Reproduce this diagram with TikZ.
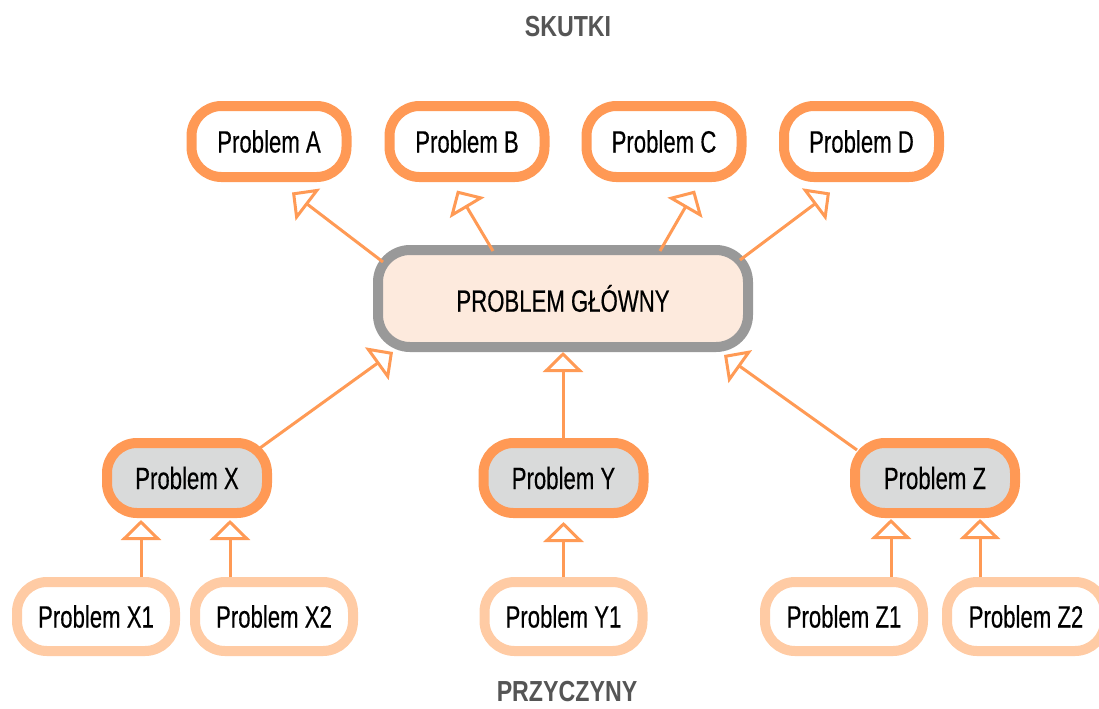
\documentclass[tikz,border=0pt]{standalone}
\usepackage{fontspec}
\setmainfont[FakeStretch=0.72,FakeBold=0.35]{Liberation Sans}
\newfontfamily\headfont[FakeStretch=0.8]{Liberation Sans Bold}
\usetikzlibrary{arrows.meta}
\definecolor{orng}{HTML}{FF9955}
\definecolor{arrc}{HTML}{FF9A55}
\definecolor{peach}{HTML}{FFCBA4}
\definecolor{midgray}{HTML}{D9DADA}
\definecolor{gborder}{HTML}{999999}
\definecolor{mainfill}{HTML}{FDEADD}
\definecolor{headgray}{HTML}{555555}
\begin{document}
\begin{tikzpicture}[x=0.5pt,y=-0.5pt,
  box/.style={rounded corners=15pt, line width=5pt, minimum width=77.5pt, minimum height=35.5pt,
    inner sep=0pt, font=\fontsize{15.4}{18}\selectfont, text=black},
  topbox/.style={box, draw=orng, fill=white},
  midbox/.style={box, draw=orng, fill=midgray, minimum width=80pt, minimum height=35pt},
  lowbox/.style={box, draw=peach, fill=white, minimum width=79pt, minimum height=34.5pt},
  mainbox/.style={box, draw=gborder, fill=mainfill, minimum width=185pt, minimum height=48.5pt, rounded corners=16pt},
  arr/.style={draw=arrc, line width=1.5pt, -{Triangle[open, length=10pt, width=20pt]}},
  head/.style={font=\headfont\fontsize{14.5}{16}\selectfont, text=headgray, inner sep=0pt}]
\useasboundingbox (0,0) rectangle (1099,708);

\node[head] (skutki) at (568,27) {SKUTKI};
\node[head] (przyczyny) at (567,692) {PRZYCZYNY};

\node[topbox] (A) at (269,141.5) {Problem A};
\node[topbox] (B) at (467,141.5) {Problem B};
\node[topbox] (C) at (664,141.5) {Problem C};
\node[topbox] (D) at (861.5,141.5) {Problem D};

\node[mainbox] (main) at (563,298.5) {PROBLEM GŁÓWNY};

\node[midbox] (X) at (187,478) {Problem X};
\node[midbox] (Y) at (563.5,478) {Problem Y};
\node[midbox] (Z) at (935,478) {Problem Z};

\node[lowbox] (X1) at (96,616.5) {Problem X1};
\node[lowbox] (X2) at (274,616.5) {Problem X2};
\node[lowbox] (Y1) at (563.5,616.5) {Problem Y1};
\node[lowbox] (Z1) at (844,616.5) {Problem Z1};
\node[lowbox] (Z2) at (1026,616.5) {Problem Z2};

\draw[arr] ([shift={(-180,-36.5)}]main.center) -- ([shift={(23,51)}]A.center);
\draw[arr] ([shift={(-70,-47.5)}]main.center) -- ([shift={(-10,49)}]B.center);
\draw[arr] ([shift={(97,-47.5)}]main.center) -- ([shift={(31,49)}]C.center);
\draw[arr] ([shift={(177,-38.5)}]main.center) -- ([shift={(-31.5,51)}]D.center);

\draw[arr] ([shift={(73,-30)}]X.center) -- ([shift={(-170,53.5)}]main.center);
\draw[arr] ([shift={(-0.5,-40)}]Y.center) -- ([shift={(0,53.5)}]main.center);
\draw[arr] ([shift={(-78,-28)}]Z.center) -- ([shift={(161,56.5)}]main.center);

\draw[arr] ([shift={(45,-39.5)}]X1.center) -- ([shift={(-46,42)}]X.center);
\draw[arr] ([shift={(-44,-39.5)}]X2.center) -- ([shift={(43,42)}]X.center);
\draw[arr] ([shift={(0,-39.5)}]Y1.center) -- ([shift={(0,44)}]Y.center);
\draw[arr] ([shift={(47,-39.5)}]Z1.center) -- ([shift={(-44,41)}]Z.center);
\draw[arr] ([shift={(-46,-39.5)}]Z2.center) -- ([shift={(45,41)}]Z.center);
\end{tikzpicture}
\end{document}
